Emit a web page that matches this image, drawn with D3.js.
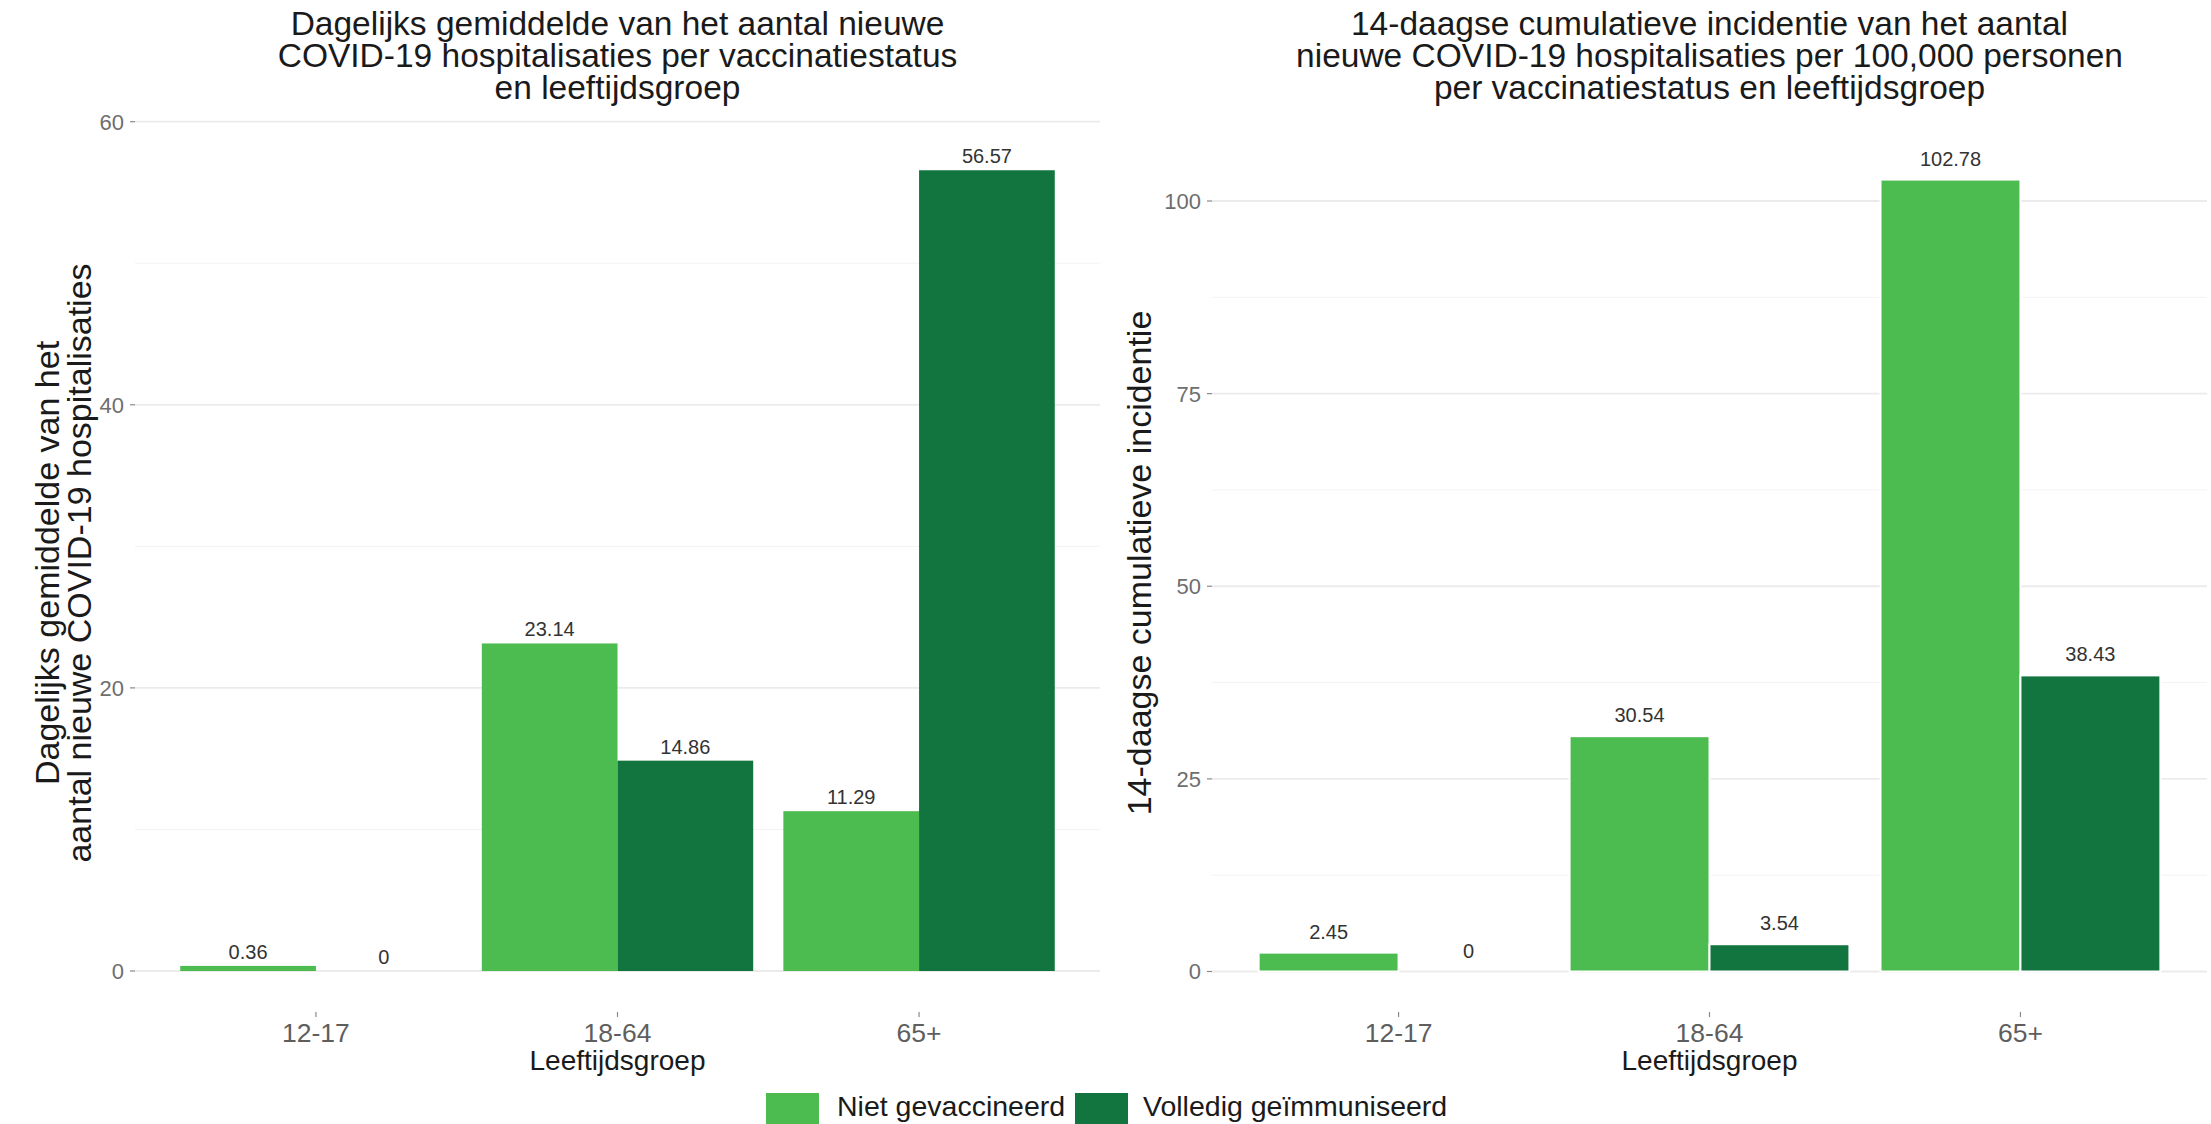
<!DOCTYPE html>
<html>
<head>
<meta charset="utf-8">
<script src="https://cdn.jsdelivr.net/npm/d3@7"></script>
<style>
  html, body { margin: 0; padding: 0; background: #fff; }
  svg { display: block; font-family: "Liberation Sans", Arial, sans-serif; }
</style>
</head>
<body>
<svg id="chart" width="2211" height="1124"></svg>
<script>
// ---- data ----
const categories = ["12-17", "18-64", "65+"];
const seriesNames = ["Niet gevaccineerd", "Volledig geïmmuniseerd"];
const seriesColors = ["#4cbb50", "#12743f"];

const dailyUnvaccinated = [0.36, 23.14, 11.29];
const dailyVaccinated = [0, 14.86, 56.57];
const incidenceUnvaccinated = [2.45, 30.54, 102.78];
const incidenceVaccinated = [0, 3.54, 38.43];

const leftMajorTicks = [0, 20, 40, 60];
const leftMinorTicks = [10, 30, 50];
const rightMajorTicks = [0, 25, 50, 75, 100];
const rightMinorTicks = [12.5, 37.5, 62.5, 87.5];

const leftTitle = ["Dagelijks gemiddelde van het aantal nieuwe",
                   "COVID-19 hospitalisaties per vaccinatiestatus",
                   "en leeftijdsgroep"];
const rightTitle = ["14-daagse cumulatieve incidentie van het aantal",
                    "nieuwe COVID-19 hospitalisaties per 100,000 personen",
                    "per vaccinatiestatus en leeftijdsgroep"];
const leftYTitle = ["Dagelijks gemiddelde van het", "aantal nieuwe COVID-19 hospitalisaties"];
const rightYTitle = ["14-daagse cumulatieve incidentie"];
const xTitle = "Leeftijdsgroep";

// ---- drawing ----
const svg = d3.select("#chart");
const panelBottom = 1012;

function panel(opts) {
  const g = svg.append("g");
  const x = d3.scaleBand().domain(categories)
    .range([opts.left, opts.right]).paddingInner(0.1).paddingOuter(0.15);
  const xs = d3.scaleBand().domain(seriesNames).range([0, x.bandwidth()]);
  const y = d3.scaleLinear().domain(opts.domain).range(opts.yRange);

  // minor gridlines
  g.selectAll(".minor").data(opts.minor).enter().append("line")
    .attr("x1", opts.left).attr("x2", opts.right)
    .attr("y1", d => y(d)).attr("y2", d => y(d))
    .attr("stroke", "#f3f3f3").attr("stroke-width", 1);
  // major gridlines
  g.selectAll(".major").data(opts.major).enter().append("line")
    .attr("x1", opts.left).attr("x2", opts.right)
    .attr("y1", d => y(d)).attr("y2", d => y(d))
    .attr("stroke", "#ebebeb").attr("stroke-width", 1.8);

  // y ticks + labels
  g.selectAll(".ytick").data(opts.major).enter().append("line")
    .attr("x1", opts.left - 5).attr("x2", opts.left)
    .attr("y1", d => y(d)).attr("y2", d => y(d))
    .attr("stroke", "#8a8a8a").attr("stroke-width", 1.2);
  g.selectAll(".ylab").data(opts.major).enter().append("text")
    .attr("x", opts.left - 11).attr("y", d => y(d))
    .attr("dy", "0.36em").attr("text-anchor", "end")
    .attr("font-size", 22).attr("fill", "#6e6e6e")
    .text(d => d);

  // bars
  const rows = categories.map((c, i) => ({ cat: c, vals: [opts.s1[i], opts.s2[i]] }));
  rows.forEach(r => {
    r.vals.forEach((v, j) => {
      const bx = x(r.cat) + xs(seriesNames[j]);
      if (v > 0) {
        g.append("rect")
          .attr("x", bx).attr("width", xs.bandwidth())
          .attr("y", y(v)).attr("height", y(0) - y(v))
          .attr("fill", seriesColors[j])
          .attr("stroke", opts.stroke ? "#ffffff" : "none")
          .attr("stroke-width", opts.stroke ? 2 : 0);
      }
      g.append("text")
        .attr("x", bx + xs.bandwidth() / 2)
        .attr("y", y(v) - opts.labelGap)
        .attr("text-anchor", "middle")
        .attr("font-size", 20).attr("fill", "#333333")
        .text(v === 0 ? "0" : v.toFixed(2));
    });
  });

  // x ticks + labels
  g.selectAll(".xtick").data(categories).enter().append("line")
    .attr("x1", d => x(d) + x.bandwidth() / 2).attr("x2", d => x(d) + x.bandwidth() / 2)
    .attr("y1", panelBottom).attr("y2", panelBottom + 5)
    .attr("stroke", "#8a8a8a").attr("stroke-width", 1.2);
  g.selectAll(".xlab").data(categories).enter().append("text")
    .attr("x", d => x(d) + x.bandwidth() / 2).attr("y", 1042)
    .attr("text-anchor", "middle").attr("font-size", 26.5).attr("fill", "#5e5e5e")
    .text(d => d);

  const cx = (opts.left + opts.right) / 2;
  // x axis title
  g.append("text").attr("x", cx).attr("y", 1070)
    .attr("text-anchor", "middle").attr("font-size", 28).attr("fill", "#1a1a1a")
    .text(xTitle);

  // plot title
  opts.title.forEach((t, i) => {
    g.append("text").attr("x", cx).attr("y", 35 + i * 32)
      .attr("text-anchor", "middle").attr("font-size", 33.5).attr("fill", "#1a1a1a")
      .text(t);
  });

  // y axis title
  opts.yTitle.forEach((t, i) => {
    g.append("text")
      .attr("transform", `translate(${opts.yTitleX[i]},563) rotate(-90)`)
      .attr("text-anchor", "middle").attr("font-size", 34).attr("fill", "#1a1a1a")
      .text(t);
  });
}

panel({
  left: 135, right: 1100,
  domain: [0, 60], yRange: [971, 121.7],
  major: leftMajorTicks, minor: leftMinorTicks,
  s1: dailyUnvaccinated, s2: dailyVaccinated,
  stroke: false, labelGap: 7,
  title: leftTitle, yTitle: leftYTitle, yTitleX: [59, 91]
});

panel({
  left: 1212, right: 2207,
  domain: [0, 100], yRange: [971.5, 201],
  major: rightMajorTicks, minor: rightMinorTicks,
  s1: incidenceUnvaccinated, s2: incidenceVaccinated,
  stroke: true, labelGap: 14,
  title: rightTitle, yTitle: rightYTitle, yTitleX: [1151]
});

// legend
const legend = svg.append("g");
const legendItems = [
  { name: seriesNames[0], color: seriesColors[0], kx: 766, tx: 837 },
  { name: seriesNames[1], color: seriesColors[1], kx: 1075, tx: 1143 }
];
legendItems.forEach(it => {
  legend.append("rect").attr("x", it.kx).attr("y", 1093)
    .attr("width", 53).attr("height", 53).attr("fill", it.color);
  legend.append("text").attr("x", it.tx).attr("y", 1116)
    .attr("font-size", 28.5).attr("fill", "#1a1a1a").text(it.name);
});
</script>
</body>
</html>
